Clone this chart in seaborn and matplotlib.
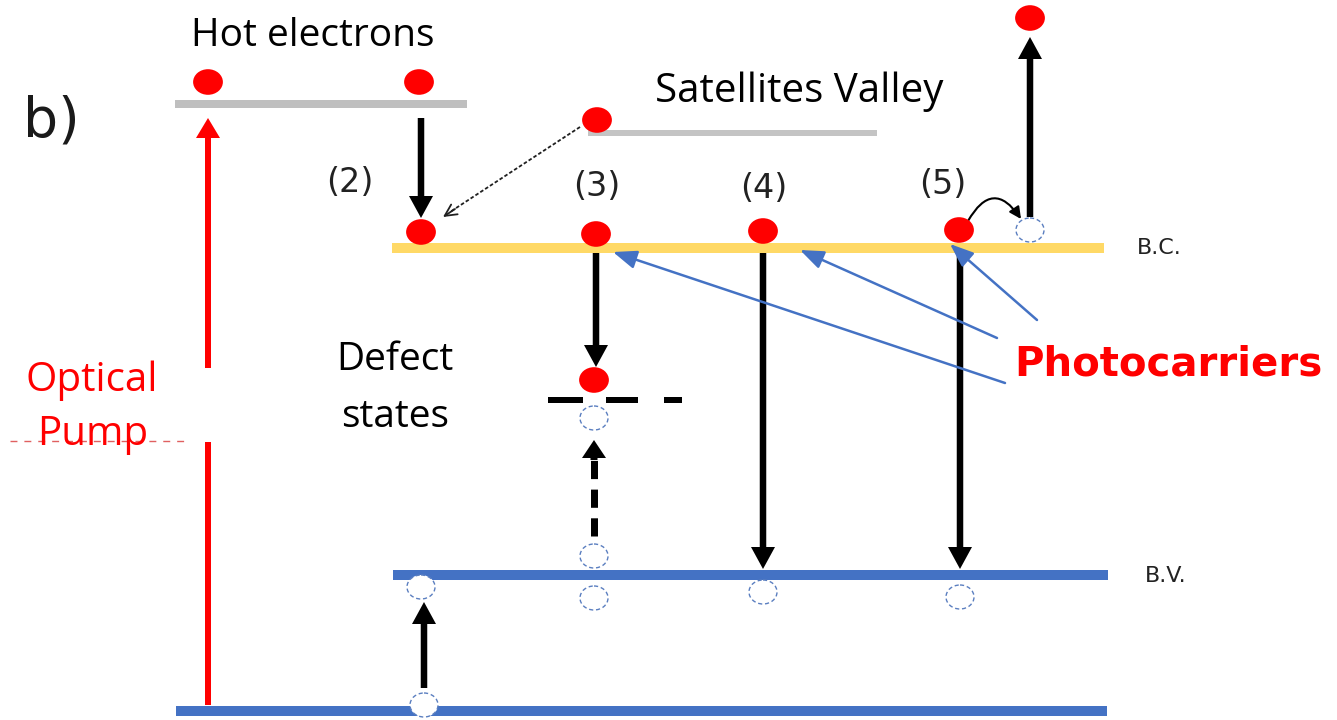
import numpy as np
import pandas as pd
import matplotlib
matplotlib.use("Agg")
import matplotlib.pyplot as plt
import seaborn as sns
from matplotlib.patches import Ellipse
from matplotlib.path import Path
from matplotlib.transforms import Affine2D

# ---- energy levels -------------------------------------------------------
level_names = ["hot", "satellite", "B.C.", "B.V.", "ground"]
level_y = [104, 133, 248, 575, 711]
level_x0 = [175, 588, 392, 393, 176]
level_x1 = [467, 877, 1104, 1108, 1107]
level_colors = ["#bfbfbf", "#c4c4c4", "#ffd966", "#4472c4", "#4472c4"]
level_thick = [8, 6, 10, 10, 10]

# ---- carriers ------------------------------------------------------------
electron_x = [208, 419, 597, 421, 596, 763, 959, 594, 1030]
electron_y = [82, 82, 120, 232, 234, 231, 230, 380, 18]

hole_x = [1030, 594, 594, 594, 421, 763, 960, 424]
hole_y = [230, 418, 556, 598, 587, 592, 597, 705]

# ---- solid black transitions (start -> tip) ------------------------------
trans_x = [421, 596, 763, 960, 424, 1030]
trans_y0 = [118, 252, 252, 252, 688, 217]
trans_y1 = [218, 367, 569, 569, 602, 37]

# ---- process numbers -----------------------------------------------------
process_labels = ["(2)", "(3)", "(4)", "(5)"]
process_x = [350, 597, 764, 943]
process_y = [183, 186, 188, 185]

# ---- pointers to the photocarriers --------------------------------------
pointer_x0 = [1005, 997, 1037]
pointer_y0 = [383, 338, 320]
pointer_x1 = [613, 800, 950]
pointer_y1 = [252, 250, 244]

# defect level dashes
defect_x0 = [548, 606, 664]
defect_x1 = [583, 638, 682]
defect_y = 400

sns.set_theme(style="white")
plt.rcParams["font.family"] = ["Open Sans", "DejaVu Sans"]

W, H = 1337, 720
fig = plt.figure(figsize=(W / 100, H / 100), dpi=100)
ax = fig.add_axes([0, 0, 1, 1])

px = 72 / 100  # points per pixel

# levels
for y, x0, x1, c, t in zip(level_y, level_x0, level_x1, level_colors, level_thick):
    sns.lineplot(x=[x0, x1], y=[y, y], color=c, lw=t * px, ax=ax,
                 solid_capstyle="butt", zorder=3)

# defect state dashes
for x0, x1 in zip(defect_x0, defect_x1):
    ax.plot([x0, x1], [defect_y, defect_y], color="black", lw=6 * px,
            solid_capstyle="butt", zorder=3)

# optical pump (red, interrupted by the label)
ax.plot([208, 208], [705, 442], color="#ff0000", lw=6 * px,
        solid_capstyle="butt", zorder=2)
ax.arrow(208, 368, 0, 118 - 368, width=6, head_width=24, head_length=20,
         length_includes_head=True, color="#ff0000", lw=0, zorder=2)

# black transitions
for x, y0, y1 in zip(trans_x, trans_y0, trans_y1):
    ax.arrow(x, y0, 0, y1 - y0, width=6.5, head_width=24, head_length=22,
             length_includes_head=True, color="black", lw=0, zorder=2)

# dashed trapping transition from B.V. to the defect level
ax.plot([594, 594], [536, 458], color="black", lw=7 * px,
        dashes=(2.6, 1.5), solid_capstyle="butt", zorder=2)
ax.arrow(594, 460, 0, -20, width=7, head_width=24, head_length=18,
         length_includes_head=True, color="black", lw=0, zorder=2)

# satellite valley -> conduction band (thin dashed)
ax.plot([580, 450], [127, 212], color="#202020", lw=1.3, ls=(0, (2, 1.2)),
        zorder=2)
ax.annotate("", xy=(443, 217), xytext=(455, 209),
            arrowprops=dict(arrowstyle="->,head_length=0.6,head_width=0.3",
                            color="#202020", lw=1.3, shrinkA=0, shrinkB=0,
                            mutation_scale=14), zorder=2)

# intervalley hop (curved, over the top)
ax.annotate("", xy=(1021, 219), xytext=(968, 221),
            arrowprops=dict(arrowstyle="-|>,head_length=0.5,head_width=0.25",
                            color="black", lw=1.5, shrinkA=0, shrinkB=0,
                            mutation_scale=14,
                            connectionstyle="arc3,rad=-0.8"), zorder=5)

# blue pointers
for x0, y0, x1, y1 in zip(pointer_x0, pointer_y0, pointer_x1, pointer_y1):
    ax.annotate("", xy=(x1, y1), xytext=(x0, y0),
                arrowprops=dict(arrowstyle="-|>,head_length=0.9,head_width=0.35",
                                color="#4472c4", lw=1.8, shrinkA=0, shrinkB=0,
                                mutation_scale=16), zorder=6)

# electrons
ellipse = Path.unit_circle().transformed(Affine2D().scale(1.0, 0.86))
dots = pd.DataFrame({"x": electron_x, "y": electron_y})
sns.scatterplot(data=dots, x="x", y="y", marker=ellipse, s=460,
                color="#ff0000", edgecolor="none", ax=ax, zorder=5,
                legend=False)
ax.set_xlim(0, W)
ax.set_ylim(H, 0)
ax.axis("off")

# holes (dashed outlines)
for x, y in zip(hole_x, hole_y):
    ax.add_patch(Ellipse((x, y), 28, 24, facecolor="white",
                         edgecolor="#5b7fc0", lw=1.0, ls=(0, (3, 2)),
                         zorder=5))

# ---- text ----------------------------------------------------------------
ax.text(51, 122, "b)", fontsize=40, family="DejaVu Sans", color="#1a1a1a",
        ha="center", va="center")
ax.text(313, 36, "Hot electrons", fontsize=28, color="black",
        ha="center", va="center")
ax.text(799, 92, "Satellites Valley", fontsize=29, color="black",
        ha="center", va="center")
for lab, x, y in zip(process_labels, process_x, process_y):
    ax.text(x, y, lab, fontsize=24, family="DejaVu Sans", color="#222222",
            ha="center", va="center")
ax.text(1159, 248, "B.C.", fontsize=16, family="DejaVu Sans",
        color="#222222", ha="center", va="center")
ax.text(1166, 576, "B.V.", fontsize=16, family="DejaVu Sans",
        color="#222222", ha="center", va="center")
ax.text(395, 360, "Defect", fontsize=28, color="black",
        ha="center", va="center")
ax.text(395, 417, "states", fontsize=28, color="black",
        ha="center", va="center")
ax.plot([10, 186], [441, 441], color="#e06060", lw=1, ls=(0, (5, 5)),
        zorder=1)
ax.text(92, 381, "Optical", fontsize=29, color="#ff0000",
        ha="center", va="center")
ax.text(93, 435, "Pump", fontsize=29, color="#ff0000",
        ha="center", va="center")
ax.text(1168, 365, "Photocarriers", fontsize=29, fontweight="bold",
        family="DejaVu Sans", color="#ff0000", ha="center", va="center")

fig.savefig("out.png", dpi=100, facecolor="white")
